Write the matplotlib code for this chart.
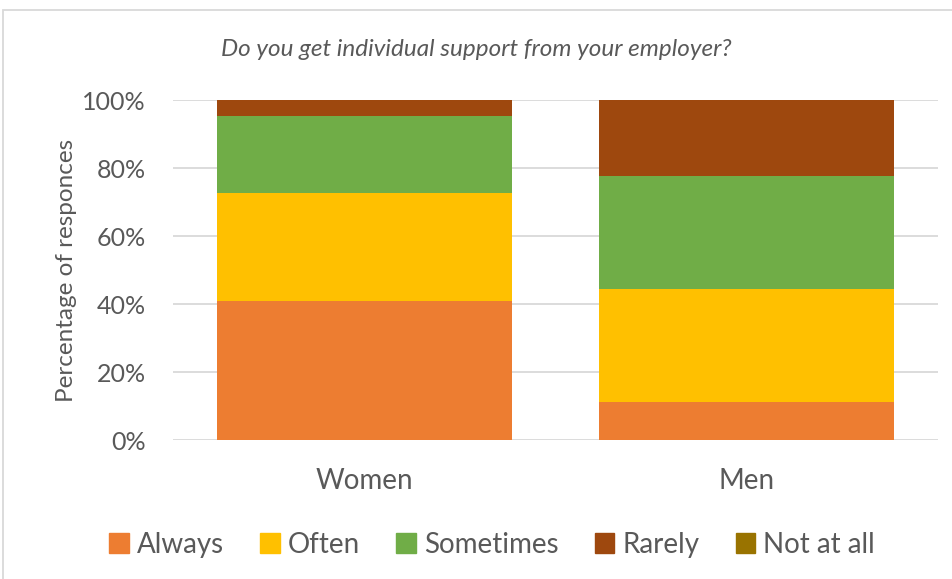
import matplotlib.pyplot as plt
import matplotlib.patches as mpatches
import numpy as np

plt.rcParams['font.family'] = ['Lato', 'DejaVu Sans']

groups = ['Women', 'Men']
answers = ['Always', 'Often', 'Sometimes', 'Rarely', 'Not at all']
always = [40.9, 11.1]
often = [31.8, 33.3]
sometimes = [22.7, 33.3]
rarely = [4.6, 22.3]
not_at_all = [0.0, 0.0]
colors = ['#ED7D31', '#FFC000', '#70AD47', '#9E480E', '#997300']

txt = '#595959'
fig = plt.figure(figsize=(9.52, 5.79), dpi=100)
ax = fig.add_axes([0.1817, 0.240, 0.8036, 0.587])

x = np.arange(len(groups))
bottom = np.zeros(len(groups))
for vals, lab, col in zip([always, often, sometimes, rarely, not_at_all], answers, colors):
    ax.bar(x, vals, 0.77, bottom=bottom, color=col, label=lab, zorder=3)
    bottom += np.array(vals)

ax.set_xlim(-0.5, 1.5)
ax.set_ylim(0, 100)
ax.set_yticks(range(0, 101, 20))
ax.set_yticklabels([f'{v}%' for v in range(0, 101, 20)])
ax.set_xticks(x)
ax.set_xticklabels(groups)
ax.tick_params(axis='both', length=0, colors=txt)
ax.tick_params(axis='y', labelsize=18, pad=19.5)
ax.tick_params(axis='x', labelsize=20, pad=20)
ax.grid(axis='y', color='#d9d9d9', linewidth=1.3, zorder=0)
for s in ax.spines.values():
    s.set_visible(False)

ax.set_ylabel('Percentage of responces', fontsize=17.5, color=txt, labelpad=4)
fig.text(0.5, 0.914, 'Do you get individual support from your employer?',
         ha='center', va='center', fontsize=17.5, style='italic', color=txt)

handles = [mpatches.Patch(color=c) for c in colors]
fig.legend(handles, answers, loc='center', bbox_to_anchor=(0.517, 0.059), ncol=5,
           frameon=False, fontsize=20, labelcolor=txt, handlelength=0.7,
           handleheight=0.7, handletextpad=0.3, columnspacing=1.3)

fig.patches.append(mpatches.Rectangle((3 / 952, -0.1), 1.1, 1 - 10 / 579 + 0.1,
                                      transform=fig.transFigure, fill=False,
                                      edgecolor='#d9d9d9', linewidth=1.3))

fig.savefig('out.png', dpi=100)
